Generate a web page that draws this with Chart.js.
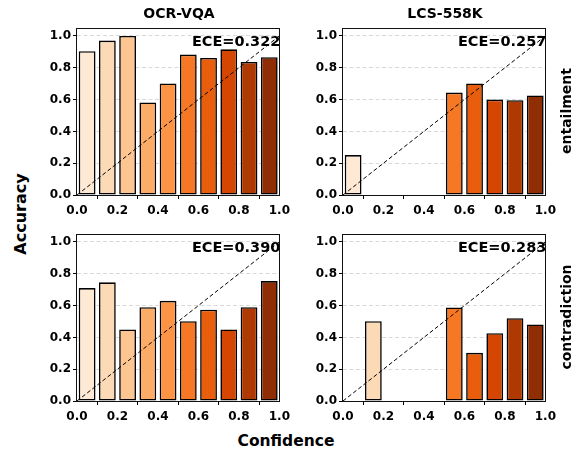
<!DOCTYPE html>
<html>
<head>
<meta charset="utf-8">
<script src="https://cdn.jsdelivr.net/npm/chart.js@4/dist/chart.umd.min.js"></script>
<style>
  html, body { margin: 0; padding: 0; background: #fff; }
  body { width: 575px; height: 450px; position: relative; overflow: hidden; font-family: 'DejaVu Sans', sans-serif; }
  canvas { position: absolute; }
  .lbl { position: absolute; font-weight: bold; color: #000; white-space: nowrap; line-height: 1; }
  .rot { transform: translate(-50%, -50%) rotate(-90deg); }
  .ctr { transform: translate(-50%, -50%); }
</style>
</head>
<body>
<canvas id="c0" width="263" height="205" style="left:32px;top:16px"></canvas>
<canvas id="c1" width="263" height="205" style="left:298px;top:16px"></canvas>
<canvas id="c2" width="263" height="205" style="left:32px;top:222px"></canvas>
<canvas id="c3" width="263" height="205" style="left:298px;top:222px"></canvas>

<div class="lbl ctr" style="left:179px;top:13px;font-size:14px">OCR-VQA</div>
<div class="lbl ctr" style="left:445px;top:13px;font-size:14px">LCS-558K</div>
<div class="lbl rot" style="left:566px;top:111px;font-size:14px">entailment</div>
<div class="lbl rot" style="left:566px;top:317px;font-size:14px">contradiction</div>
<div class="lbl rot" style="left:21px;top:214px;font-size:16px">Accuracy</div>
<div class="lbl ctr" style="left:286px;top:442px;font-size:15.5px">Confidence</div>

<script>
// ---- data ----
const binCenters = [0.05, 0.15, 0.25, 0.35, 0.45, 0.55, 0.65, 0.75, 0.85, 0.95];
const ocrEntailment = [0.904, 0.971, 1.0, 0.582, 0.701, 0.883, 0.862, 0.916, 0.837, 0.866];
const lcsEntailment = [0.251, 0, 0, 0, 0, 0.644, 0.701, 0.600, 0.596, 0.626];
const ocrContradiction = [0.710, 0.746, 0.450, 0.590, 0.630, 0.502, 0.574, 0.450, 0.590, 0.754];
const lcsContradiction = [0, 0.502, 0, 0, 0, 0.588, 0.303, 0.426, 0.521, 0.481];
const eceLabels = ["ECE=0.322", "ECE=0.257", "ECE=0.390", "ECE=0.283"];
const diagonal = [[0, 0], [1, 1]];
const xTicks = [0, 0.2, 0.4, 0.6, 0.8, 1.0];
const yTicks = [0, 0.2, 0.4, 0.6, 0.8, 1.0];

// ---- styles ----
const binColors = ['#fee9d4', '#fddab6', '#fdc591', '#fdac68', '#fd9344',
                   '#f67824', '#e95e0d', '#d44601', '#ae3903', '#8f2d04'];

Chart.defaults.font.family = "'DejaVu Sans', sans-serif";
Chart.defaults.font.weight = 'bold';
Chart.defaults.font.size = 12;
Chart.defaults.color = '#000';

const framePlugin = {
  id: 'frame',
  afterDatasetsDraw(chart, args, opts) {
    const {ctx, chartArea: a} = chart;
    ctx.save();
    ctx.font = "bold 14.5px 'DejaVu Sans'";
    ctx.fillStyle = '#000';
    ctx.textAlign = 'right';
    ctx.textBaseline = 'alphabetic';
    ctx.fillText(opts.text, a.right + 1, a.top + 18);
    ctx.restore();
  },
  afterDraw(chart) {
    const {ctx, chartArea: a} = chart;
    ctx.save();
    ctx.strokeStyle = '#111';
    ctx.lineWidth = 1;
    const l = Math.round(a.left) - 0.5, t = Math.round(a.top) + 0.5;
    const r = Math.round(a.right) + 0.5, b = Math.round(a.bottom) + 0.5;
    ctx.strokeRect(l, t, r - l, b - t);
    ctx.restore();
  }
};

function makeChart(id, values, ece) {
  const pts = binCenters.map((x, i) => ({x: x, y: values[i]}));
  new Chart(document.getElementById(id), {
    type: 'bar',
    data: {
      datasets: [
        {
          type: 'line',
          data: diagonal.map(p => ({x: p[0], y: p[1]})),
          borderColor: '#000',
          borderWidth: 1,
          borderDash: [4, 2.5],
          pointRadius: 0,
          fill: false,
          order: 0
        },
        {
          type: 'bar',
          data: pts,
          backgroundColor: binColors,
          borderColor: '#000',
          borderWidth: 1.6,
          borderSkipped: false,
          barPercentage: 0.83,
          categoryPercentage: 1.0,
          order: 1
        }
      ]
    },
    options: {
      responsive: false,
      animation: false,
      devicePixelRatio: 1,
      layout: { padding: { top: 12, right: 14, left: 0, bottom: 0 } },
      plugins: {
        legend: { display: false },
        tooltip: { enabled: false },
        frame: { text: ece }
      },
      scales: {
        x: {
          type: 'linear',
          min: 0, max: 1,
          offset: false,
          afterBuildTicks: s => { s.ticks = xTicks.map(v => ({value: v})); },
          afterFit: s => { s.height = 26; },
          ticks: { padding: 5, maxRotation: 0, autoSkip: false, callback: v => v.toFixed(1) },
          grid: { drawOnChartArea: false, drawTicks: true, tickLength: 4, tickColor: '#000', tickWidth: 1 },
          border: { display: false }
        },
        y: {
          type: 'linear',
          min: 0, max: 1.05,
          afterBuildTicks: s => { s.ticks = yTicks.map(v => ({value: v})); },
          afterFit: s => { s.width = 45; },
          ticks: { padding: 2, autoSkip: false, callback: v => v.toFixed(1) },
          grid: { color: '#d9d9d9', lineWidth: 1, drawTicks: true, tickLength: 4, tickColor: '#000', tickWidth: 1 },
          border: { display: false, dash: [4, 2.5] }
        }
      }
    },
    plugins: [framePlugin]
  });
}

makeChart('c0', ocrEntailment, eceLabels[0]);
makeChart('c1', lcsEntailment, eceLabels[1]);
makeChart('c2', ocrContradiction, eceLabels[2]);
makeChart('c3', lcsContradiction, eceLabels[3]);
</script>
</body>
</html>
